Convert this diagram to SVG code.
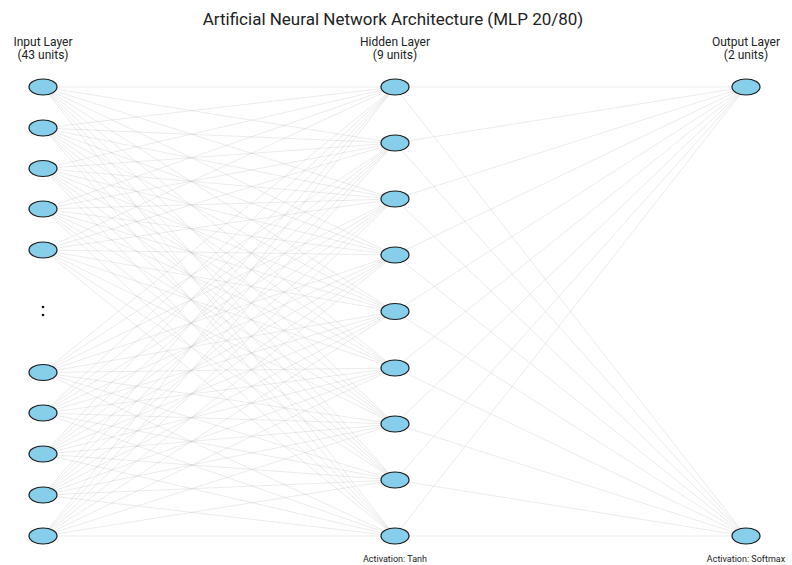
<svg xmlns="http://www.w3.org/2000/svg" width="792" height="565" viewBox="0 0 792 565">
<style>
.e{stroke:#bbb;stroke-opacity:0.42;stroke-width:0.7;fill:none}
.n{fill:#87ceeb;stroke:#1a1a1a;stroke-width:1.2}
.t{font-family:Roboto,"Open Sans",sans-serif;fill:#222;text-anchor:middle}
.title{font-size:17px}
.lab{font-size:12px}
.act{font-size:9px}
</style>
<rect width="792" height="565" fill="#fff"/>
<g id="connectors">
<g id="in-hid">
<path class="e" d="M43 87L395 87M43 87L395 143M43 87L395 199M43 87L395 255M43 87L395 311.5M43 87L395 368M43 87L395 424M43 87L395 480M43 87L395 536"/>
<path class="e" d="M43 128L395 87M43 128L395 143M43 128L395 199M43 128L395 255M43 128L395 311.5M43 128L395 368M43 128L395 424M43 128L395 480M43 128L395 536"/>
<path class="e" d="M43 168.5L395 87M43 168.5L395 143M43 168.5L395 199M43 168.5L395 255M43 168.5L395 311.5M43 168.5L395 368M43 168.5L395 424M43 168.5L395 480M43 168.5L395 536"/>
<path class="e" d="M43 209L395 87M43 209L395 143M43 209L395 199M43 209L395 255M43 209L395 311.5M43 209L395 368M43 209L395 424M43 209L395 480M43 209L395 536"/>
<path class="e" d="M43 250L395 87M43 250L395 143M43 250L395 199M43 250L395 255M43 250L395 311.5M43 250L395 368M43 250L395 424M43 250L395 480M43 250L395 536"/>
<path class="e" d="M43 372.5L395 87M43 372.5L395 143M43 372.5L395 199M43 372.5L395 255M43 372.5L395 311.5M43 372.5L395 368M43 372.5L395 424M43 372.5L395 480M43 372.5L395 536"/>
<path class="e" d="M43 413L395 87M43 413L395 143M43 413L395 199M43 413L395 255M43 413L395 311.5M43 413L395 368M43 413L395 424M43 413L395 480M43 413L395 536"/>
<path class="e" d="M43 454L395 87M43 454L395 143M43 454L395 199M43 454L395 255M43 454L395 311.5M43 454L395 368M43 454L395 424M43 454L395 480M43 454L395 536"/>
<path class="e" d="M43 495L395 87M43 495L395 143M43 495L395 199M43 495L395 255M43 495L395 311.5M43 495L395 368M43 495L395 424M43 495L395 480M43 495L395 536"/>
<path class="e" d="M43 536L395 87M43 536L395 143M43 536L395 199M43 536L395 255M43 536L395 311.5M43 536L395 368M43 536L395 424M43 536L395 480M43 536L395 536"/>
</g>
<g id="hid-out">
<path class="e" d="M395 87L746 87M395 143L746 87M395 199L746 87M395 255L746 87M395 311.5L746 87M395 368L746 87M395 424L746 87M395 480L746 87M395 536L746 87"/>
<path class="e" d="M395 87L746 536M395 143L746 536M395 199L746 536M395 255L746 536M395 311.5L746 536M395 368L746 536M395 424L746 536M395 480L746 536M395 536L746 536"/>
</g>
</g>
<text class="t title" x="393" y="25">Artificial Neural Network Architecture (MLP 20/80)</text>
<g id="input-layer">
<text class="t lab" x="43" y="46">Input Layer</text>
<text class="t lab" x="43" y="59">(43 units)</text>
<ellipse id="in1" class="n" cx="43" cy="87" rx="14" ry="8"/>
<ellipse id="in2" class="n" cx="43" cy="128" rx="14" ry="8"/>
<ellipse id="in3" class="n" cx="43" cy="168.5" rx="14" ry="8"/>
<ellipse id="in4" class="n" cx="43" cy="209" rx="14" ry="8"/>
<ellipse id="in5" class="n" cx="43" cy="250" rx="14" ry="8"/>
<circle cx="43" cy="307" r="1.3" fill="#111"/>
<circle cx="43" cy="315" r="1.3" fill="#111"/>
<ellipse id="in39" class="n" cx="43" cy="372.5" rx="14" ry="8"/>
<ellipse id="in40" class="n" cx="43" cy="413" rx="14" ry="8"/>
<ellipse id="in41" class="n" cx="43" cy="454" rx="14" ry="8"/>
<ellipse id="in42" class="n" cx="43" cy="495" rx="14" ry="8"/>
<ellipse id="in43" class="n" cx="43" cy="536" rx="14" ry="8"/>
</g>
<g id="hidden-layer">
<text class="t lab" x="395" y="46">Hidden Layer</text>
<text class="t lab" x="395" y="59">(9 units)</text>
<ellipse id="h1" class="n" cx="395" cy="87" rx="14" ry="8"/>
<ellipse id="h2" class="n" cx="395" cy="143" rx="14" ry="8"/>
<ellipse id="h3" class="n" cx="395" cy="199" rx="14" ry="8"/>
<ellipse id="h4" class="n" cx="395" cy="255" rx="14" ry="8"/>
<ellipse id="h5" class="n" cx="395" cy="311.5" rx="14" ry="8"/>
<ellipse id="h6" class="n" cx="395" cy="368" rx="14" ry="8"/>
<ellipse id="h7" class="n" cx="395" cy="424" rx="14" ry="8"/>
<ellipse id="h8" class="n" cx="395" cy="480" rx="14" ry="8"/>
<ellipse id="h9" class="n" cx="395" cy="536" rx="14" ry="8"/>
<text class="t act" x="395" y="562">Activation: Tanh</text>
</g>
<g id="output-layer">
<text class="t lab" x="746" y="46">Output Layer</text>
<text class="t lab" x="746" y="59">(2 units)</text>
<ellipse id="o1" class="n" cx="746" cy="87" rx="14" ry="8"/>
<ellipse id="o2" class="n" cx="746" cy="536" rx="14" ry="8"/>
<text class="t act" x="746" y="562">Activation: Softmax</text>
</g>
</svg>
